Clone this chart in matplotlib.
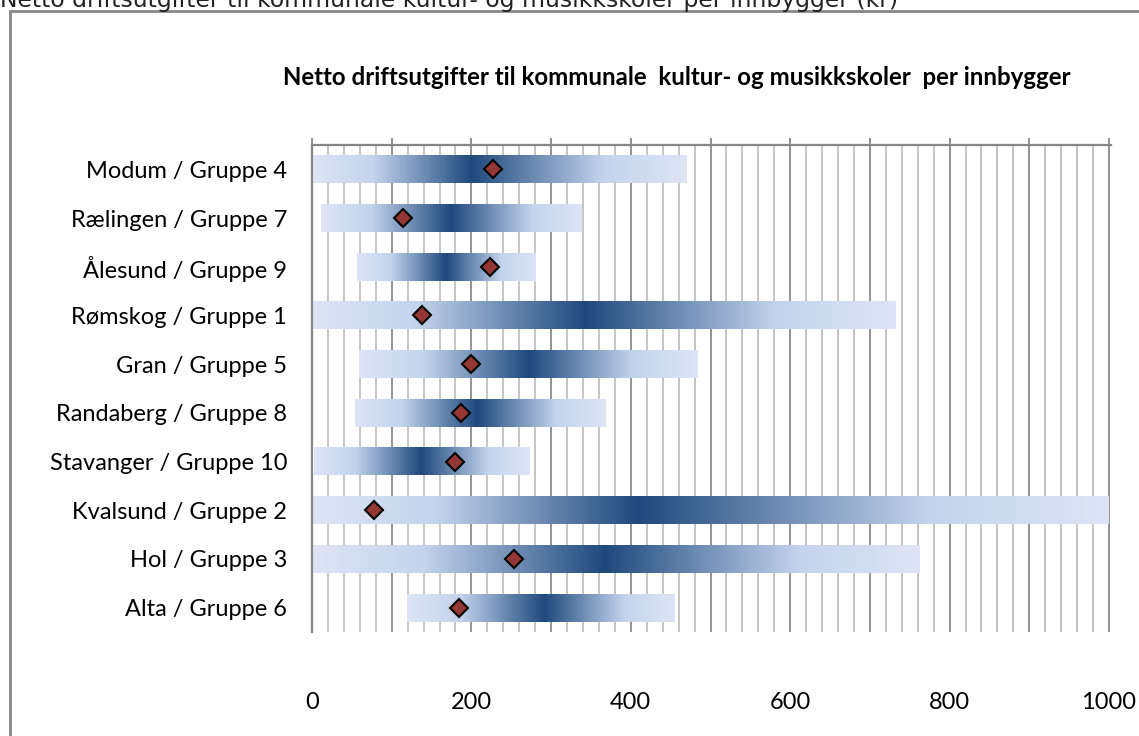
import matplotlib.pyplot as plt
import numpy as np
from matplotlib.colors import LinearSegmentedColormap
from matplotlib.patches import Rectangle
from matplotlib.ticker import MultipleLocator

# data (kr per innbygger)
kommuner = ["Modum / Gruppe 4", "Rælingen / Gruppe 7", "Ålesund / Gruppe 9",
            "Rømskog / Gruppe 1", "Gran / Gruppe 5", "Randaberg / Gruppe 8",
            "Stavanger / Gruppe 10", "Kvalsund / Gruppe 2", "Hol / Gruppe 3",
            "Alta / Gruppe 6"]
gruppe_min = [0, 11, 57, 0, 59, 54, 2, 0, 0, 119]
gruppe_mid = [200, 174, 168, 343, 272, 207, 137, 408, 367, 291]
gruppe_max = [470, 338, 280, 733, 484, 368, 273, 1000, 762, 455]
kommune_verdi = [227, 114, 223, 138, 200, 187, 180, 78, 253, 184]
xticks = [0, 100, 200, 300, 400, 500, 600, 700, 800, 900, 1000]
xticklabels = ["0", "", "200", "", "400", "", "600", "", "800", "", "1000"]

edge = "#dee4f5"
light = "#c4d4ed"
dark = "#1f497d"
cm_left = LinearSegmentedColormap.from_list("l", [(0, edge), (0.38, light), (1, dark)])
cm_right = LinearSegmentedColormap.from_list("r", [(0, dark), (0.62, light), (1, edge)])

fig = plt.figure(figsize=(11.39, 7.36), dpi=100)
ax = fig.add_axes([312 / 1139, 1 - 632 / 736, (1110.6 - 312) / 1139, (632 - 145) / 736])

grad = np.linspace(0, 1, 256).reshape(1, -1)
h = 0.57
n = len(kommuner)
for i in range(n):
    y = n - 1 - i
    ax.imshow(grad, cmap=cm_left, aspect="auto", zorder=2, interpolation="bilinear",
              extent=(gruppe_min[i], gruppe_mid[i], y - h / 2, y + h / 2))
    ax.imshow(grad, cmap=cm_right, aspect="auto", zorder=2, interpolation="bilinear",
              extent=(gruppe_mid[i], gruppe_max[i], y - h / 2, y + h / 2))
ypos = [n - 1 - i for i in range(n)]
ax.plot(kommune_verdi, ypos, linestyle="none", marker="D", ms=9.5,
        mfc="#953735", mec="black", mew=1.5, zorder=4)

ax.set_xlim(0, 1002)
ax.set_ylim(-0.5, n - 0.5)
ax.set_yticks(ypos)
ax.set_yticklabels(kommuner, fontsize=17, family="Lato")
ax.set_xticks(xticks)
ax.set_xticklabels(xticklabels, fontsize=17, family="Lato")
ax.xaxis.set_minor_locator(MultipleLocator(20))
ax.tick_params(axis="y", length=0, pad=18)
ax.tick_params(axis="x", which="major", bottom=False, top=True, labelbottom=True,
               labeltop=False, direction="out", length=5, width=1.3, color="#868686", pad=38)
ax.tick_params(axis="x", which="minor", bottom=False, top=False)
ax.set_axisbelow(True)
ax.grid(axis="x", which="major", color="#8a8a8a", lw=1.3)
ax.grid(axis="x", which="minor", color="#c0c0c0", lw=1.3)
for s in ["right", "bottom"]:
    ax.spines[s].set_visible(False)
for s in ["top", "left"]:
    ax.spines[s].set_color("#868686")
    ax.spines[s].set_linewidth(1.6)

fig.text(677 / 1139, 1 - 85 / 736,
         "Netto driftsutgifter til kommunale  kultur- og musikkskoler  per innbygger",
         ha="center", va="baseline", fontsize=17.3, fontweight="bold", family="Lato")

# header above the chart frame, cut by the picture edge
fig.text(0, 1 - 7 / 736,
         "Netto driftsutgifter til kommunale kultur- og musikkskoler per innbygger (kr)",
         ha="left", va="baseline", fontsize=16.9, color="#222222", family="DejaVu Sans")
fig.add_artist(Rectangle((10 / 1139, -0.05), 1.1, 1.05 - 11 / 736, transform=fig.transFigure,
                         fill=False, edgecolor="#868686", lw=2))

fig.savefig("out.png", dpi=100)
